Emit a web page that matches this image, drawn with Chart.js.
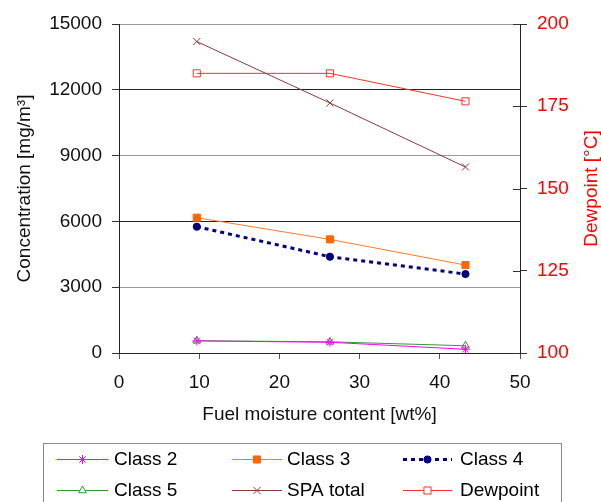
<!DOCTYPE html>
<html>
<head>
<meta charset="utf-8">
<script src="https://cdn.jsdelivr.net/npm/chart.js@4"></script>
<style>
  html, body { margin: 0; padding: 0; background: #fff; }
  canvas { display: block; }
</style>
</head>
<body>
<canvas id="c" width="601" height="502"></canvas>
<script>
// Fuel moisture content [wt%] of the three test fuels
const moisture = [9.7, 26.3, 43.2];

// Particle concentration per size class [mg/m3]
const class2 = [550, 490, 170];
const class3 = [6170, 5180, 4010];
const class4 = [5760, 4390, 3600];
const class5 = [560, 510, 330];
const spaTotal = [14200, 11400, 8480];

// Acid dewpoint [°C], right axis
const dewpoint = [185, 185, 176.5];

const seriesNames = ['Class 2', 'Class 3', 'Class 4', 'Class 5', 'SPA total', 'Dewpoint'];

const FONT = "'Liberation Sans', Arial, sans-serif";
Chart.defaults.font.family = FONT;
Chart.defaults.font.size = 19;
Chart.defaults.color = '#111';

const pts = arr => moisture.map((x, i) => ({ x: x, y: arr[i] }));
const plain = v => String(v);

function series(label, data, color, opts) {
  return Object.assign({
    label: label,
    data: pts(data),
    borderColor: color,
    backgroundColor: color,
    pointBorderColor: color,
    pointBackgroundColor: color,
    borderWidth: 1,
    pointBorderWidth: 1,
    tension: 0,
    yAxisID: 'y'
  }, opts);
}

const datasets = [
  series(seriesNames[0], class2, '#ff00ff', { pointStyle: 'star', pointRadius: 4.5 }),
  series(seriesNames[1], class3, '#ff7a2a', { pointStyle: 'rect', pointRadius: 5, pointBackgroundColor: '#ff6600', pointBorderColor: '#ff6600' }),
  series(seriesNames[2], class4, '#000080', { borderWidth: 3, borderDash: [4, 4], pointStyle: 'circle', pointRadius: 3.6 }),
  series(seriesNames[3], class5, '#2e9a2e', { pointStyle: 'triangle', pointRadius: 4.5, pointBackgroundColor: 'rgba(255,255,255,0)' }),
  series(seriesNames[4], spaTotal, '#8e3a3a', { pointStyle: 'crossRot', pointRadius: 5 }),
  series(seriesNames[5], dewpoint, '#ff3030', { pointStyle: 'rect', pointRadius: 5, pointBackgroundColor: 'rgba(255,255,255,0)', yAxisID: 'y2' })
];

// Right-hand axis title (reads bottom to top), inner halves of its tick marks, and the boxed legend
const extras = {
  id: 'extras',
  afterDraw(chart) {
    const ctx = chart.ctx;
    const area = chart.chartArea;
    const y2 = chart.scales.y2;

    ctx.save();
    ctx.strokeStyle = '#333';
    ctx.lineWidth = 1;
    y2.ticks.forEach(t => {
      const py = Math.round(y2.getPixelForValue(t.value)) + 0.5;
      ctx.beginPath();
      ctx.moveTo(area.right - 7, py);
      ctx.lineTo(area.right, py);
      ctx.stroke();
    });

    ctx.fillStyle = '#ff0000';
    ctx.font = '19px ' + FONT;
    ctx.textAlign = 'center';
    ctx.textBaseline = 'middle';
    ctx.translate(592, (area.top + area.bottom) / 2);
    ctx.rotate(-Math.PI / 2);
    ctx.fillText('Dewpoint [°C]', 0, 0);
    ctx.restore();

    // legend
    ctx.save();
    ctx.strokeStyle = '#8a8a8a';
    ctx.lineWidth = 1;
    ctx.strokeRect(43.5, 443.5, 518, 80);
    const lineStart = [57, 232, 403];
    const lineEnd = [108, 282, 452];
    const textX = [114, 287, 460];
    const rowY = [459, 490];
    chart.data.datasets.forEach((ds, i) => {
      const col = i % 3, row = Math.floor(i / 3);
      const y = rowY[row];
      ctx.save();
      ctx.strokeStyle = ds.borderColor;
      ctx.lineWidth = ds.borderWidth;
      ctx.setLineDash(ds.borderDash || []);
      ctx.beginPath();
      ctx.moveTo(lineStart[col], y + 0.5);
      ctx.lineTo(lineEnd[col], y + 0.5);
      ctx.stroke();
      ctx.restore();

      ctx.save();
      ctx.strokeStyle = ds.pointBorderColor;
      ctx.fillStyle = ds.pointBackgroundColor;
      ctx.lineWidth = ds.pointBorderWidth;
      const mx = (lineStart[col] + lineEnd[col]) / 2;
      if ((ds.pointStyle === 'rect' || ds.pointStyle === 'triangle') && ds.pointBackgroundColor !== ds.pointBorderColor) {
        ctx.fillStyle = '#fff';
      }
      Chart.helpers.drawPoint(ctx, { pointStyle: ds.pointStyle, radius: ds.pointRadius, rotation: 0, borderWidth: ds.pointBorderWidth }, mx, y + 0.5);
      ctx.restore();

      ctx.fillStyle = '#000';
      ctx.font = '19px ' + FONT;
      ctx.textAlign = 'left';
      ctx.textBaseline = 'middle';
      ctx.fillText(ds.label, textX[col], y + 1);
    });
    ctx.restore();
  }
};

new Chart(document.getElementById('c'), {
  type: 'line',
  data: { datasets: datasets },
  options: {
    responsive: false,
    animation: false,
    devicePixelRatio: 1,
    layout: { padding: { top: 24, left: 0, right: 0, bottom: 0 } },
    plugins: { legend: { display: false }, tooltip: { enabled: false } },
    scales: {
      x: {
        type: 'linear',
        min: 0, max: 50,
        ticks: { stepSize: 10, padding: 12, color: '#111', maxRotation: 0, callback: plain },
        grid: { drawOnChartArea: false, tickLength: 6, color: '#555' },
        border: { color: '#222' },
        title: { display: true, text: 'Fuel moisture content [wt%]', color: '#111', font: { size: 19 }, padding: { top: 0, bottom: 76 } },
        afterFit(s) { s.height = 149; }
      },
      y: {
        position: 'left',
        min: 0, max: 15000,
        ticks: { stepSize: 3000, padding: 10, color: '#111', callback: plain },
        grid: {
          tickLength: 7,
          color: c => (c.tick && (c.tick.value === 6000 || c.tick.value === 12000)) ? '#222' : '#9a9a9a',
          tickColor: '#333'
        },
        border: { color: '#222' },
        title: { display: true, text: 'Concentration [mg/m³]', color: '#111', font: { size: 19 }, padding: { top: 13, bottom: 0 } },
        afterFit(s) { s.width = 119; }
      },
      y2: {
        position: 'right',
        min: 100, max: 200,
        ticks: { stepSize: 25, padding: 10, color: '#ff0000', callback: plain },
        grid: { drawOnChartArea: false, tickLength: 7, color: '#333' },
        border: { color: '#222' },
        title: { display: false },
        afterFit(s) { s.width = 81; }
      }
    }
  },
  plugins: [extras]
});
</script>
</body>
</html>
